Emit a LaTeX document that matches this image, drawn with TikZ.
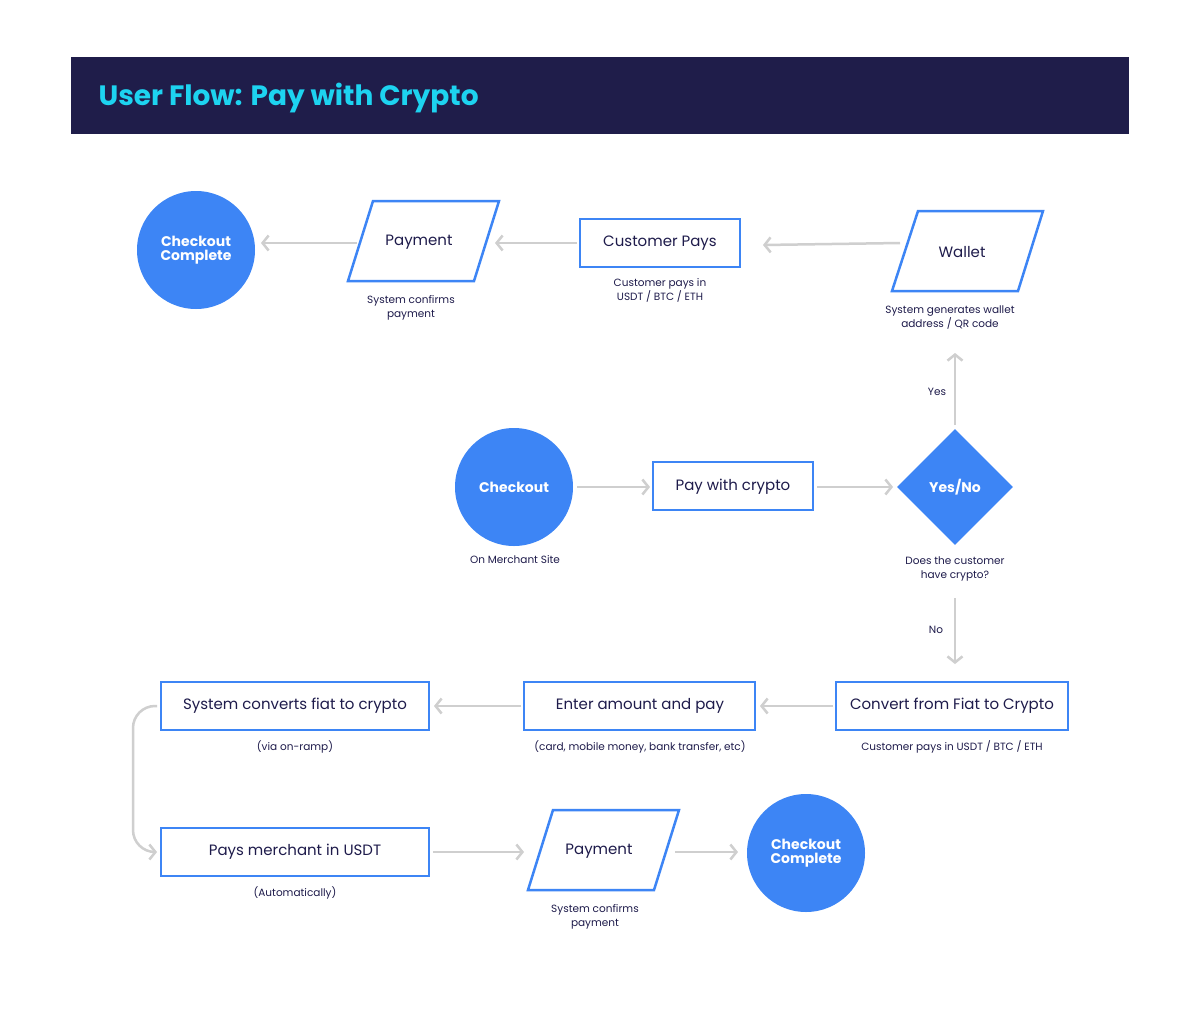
\documentclass[tikz,border=0pt]{standalone}
\usepackage{fontspec}
\setmainfont{Poppins}
\usetikzlibrary{arrows.meta,shapes.geometric}
\definecolor{navy}{HTML}{1F1D4A}
\definecolor{cyanT}{HTML}{1DD3F0}
\definecolor{blueM}{HTML}{3D85F5}
\definecolor{txt}{HTML}{1E1B4B}
\definecolor{arr}{HTML}{CFCFCF}
\begin{document}
\begin{tikzpicture}[x=1pt,y=-1pt,
  box/.style={draw=blueM,line width=2.5pt,fill=white},
  circ/.style={circle,fill=blueM,minimum size=118pt,inner sep=0pt,text=white,font=\fontsize{14}{14}\selectfont\bfseries,align=center},
  lab/.style={text=txt,font=\fontsize{15}{15}\selectfont},
  small/.style={text=txt,font=\fontsize{10.5}{14}\selectfont,align=center},
  con/.style={draw=arr,line width=2.5pt,-{Straight Barb[length=6pt,width=15pt,line width=2.5pt]}}]
\useasboundingbox (0,0) rectangle (1200,1010);
\fill[white] (0,0) rectangle (1200,1010);
\fill[navy] (71,57) rectangle (1129,134);
\node[anchor=west,text=cyanT,font=\fontsize{28}{28}\selectfont\bfseries] (title) at (95,98) {User Flow: Pay with Crypto};
% top row
\node[circ] (cc1) at (196,250) {Checkout\\Complete};
\draw[box] (373,201) -- (499,201) -- (474,281) -- (348,281) -- cycle;
\node[lab] (pay1) at (419,242) {Payment};
\draw[box] (580,219) rectangle (740,267);
\node[lab] (cp) at (660,243) {Customer Pays};
\draw[box] (918,211) -- (1043,211) -- (1018,291) -- (892,291) -- cycle;
\node[lab] (wal) at (962,252) {Wallet};
\node[small] (l1) at (411,308) {System confirms\\payment};
\node[small] (l2) at (660,290) {Customer pays in\\USDT / BTC / ETH};
\node[small] (l3) at (950,318) {System generates wallet\\address / QR code};
\coordinate (a1) at (900,243); \coordinate (a2) at (763,245);
\draw[con] (a1) -- (a2);
\coordinate (a3) at (577,243); \coordinate (a4) at (495,243);
\draw[con] (a3) -- (a4);
\coordinate (a5) at (357,243); \coordinate (a6) at (261,243);
\draw[con] (a5) -- (a6);
% middle row
\node[circ] (co) at (514,487) {Checkout};
\node[small] (l4) at (515,560) {On Merchant Site};
\draw[box] (653,462) rectangle (813,510);
\node[lab] (pwc) at (733,487) {Pay with crypto};
\node[diamond,fill=blueM,minimum size=116pt,inner sep=0pt] (yn) at (955,487) {};
\node[text=white,font=\fontsize{14}{14}\selectfont\bfseries] (ynl) at (955,487) {Yes/No};
\node[small] (l5) at (955,569) {Does the customer\\have crypto?};
\coordinate (b1) at (577,487); \coordinate (b2) at (650,487);
\draw[con] (b1) -- (b2);
\coordinate (b3) at (817,487); \coordinate (b4) at (893,487);
\draw[con] (b3) -- (b4);
\coordinate (b5) at (955,425); \coordinate (b6) at (955,353);
\draw[con] (b5) -- (b6);
\node[small] (yes) at (937,392) {Yes};
\coordinate (b7) at (955,598); \coordinate (b8) at (955,664);
\draw[con] (b7) -- (b8);
\node[small] (no) at (936,630) {No};
% third row
\draw[box] (836,682) rectangle (1068,730);
\node[lab] (cf) at (952,706) {Convert from Fiat to Crypto};
\node[small] (l6) at (952,747) {Customer pays in USDT / BTC / ETH};
\draw[box] (524,682) rectangle (755,730);
\node[lab] (ea) at (640,706) {Enter amount and pay};
\node[small] (l7) at (640,747) {(card, mobile money, bank transfer, etc)};
\draw[box] (161,682) rectangle (429,730);
\node[lab] (sc) at (295,706) {System converts fiat to crypto};
\node[small] (l8) at (295,747) {(via on-ramp)};
\coordinate (c1) at (833,706); \coordinate (c2) at (760,706);
\draw[con] (c1) -- (c2);
\coordinate (c3) at (521,706); \coordinate (c4) at (434,706);
\draw[con] (c3) -- (c4);
\coordinate (c5) at (157,706); \coordinate (c6) at (157,852);
\draw[con,rounded corners=22pt] (c5) -- (133,706) -- (133,852) -- (c6);
% bottom row
\draw[box] (161,828) rectangle (429,876);
\node[lab] (pm) at (295,852) {Pays merchant in USDT};
\node[small] (l9) at (295,893) {(Automatically)};
\draw[box] (553,810) -- (679,810) -- (654,890) -- (528,890) -- cycle;
\node[lab] (pay2) at (599,851) {Payment};
\node[small] (l10) at (595,917) {System confirms\\payment};
\node[circ] (cc2) at (806,853) {Checkout\\Complete};
\coordinate (d1) at (433,852); \coordinate (d2) at (524,852);
\draw[con] (d1) -- (d2);
\coordinate (d3) at (675,852); \coordinate (d4) at (738,852);
\draw[con] (d3) -- (d4);
\end{tikzpicture}
\end{document}
